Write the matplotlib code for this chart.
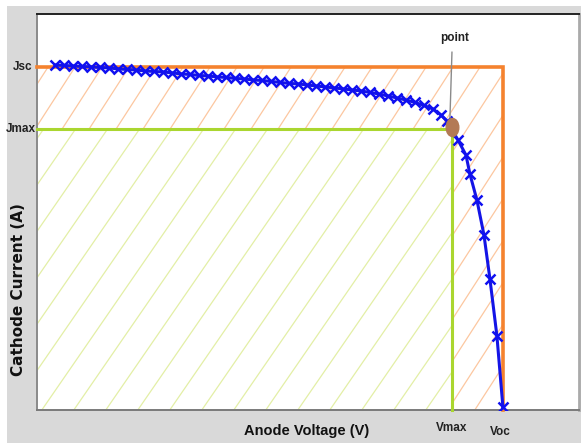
import numpy as np
import matplotlib
matplotlib.use("Agg")
from matplotlib import pyplot as plt
from matplotlib.patches import Rectangle
from matplotlib.path import Path
from matplotlib.transforms import Affine2D

# I-V sweep of the cell (voltage in V, current density)
voltage = [0.0232, 0.0348, 0.0464, 0.0579, 0.0695, 0.0811, 0.0927, 0.1043, 0.1159, 0.1275,
           0.1391, 0.1506, 0.1622, 0.1738, 0.1854, 0.1970, 0.2086, 0.2202, 0.2318, 0.2434,
           0.2549, 0.2665, 0.2781, 0.2897, 0.3013, 0.3129, 0.3245, 0.3361, 0.3477, 0.3592,
           0.3708, 0.3824, 0.3940, 0.4056, 0.4172, 0.4288, 0.4404, 0.4519, 0.4635, 0.4751,
           0.4867, 0.4983, 0.5099, 0.5202, 0.5279, 0.5421, 0.5524, 0.5575, 0.5665, 0.5756,
           0.5833, 0.5923, 0.6000]
current = [35.20, 35.15, 35.10, 35.05, 35.00, 34.95, 34.90, 34.80, 34.74, 34.69,
           34.59, 34.54, 34.49, 34.39, 34.29, 34.23, 34.13, 34.08, 33.98, 33.93,
           33.83, 33.78, 33.67, 33.62, 33.52, 33.42, 33.32, 33.27, 33.16, 33.06,
           32.96, 32.86, 32.76, 32.65, 32.55, 32.40, 32.24, 32.04, 31.84, 31.63,
           31.38, 31.07, 30.71, 30.10, 29.49, 27.55, 26.02, 24.08, 21.43, 17.86,
           13.37, 7.55, 0.31]

Voc = 0.600
Jsc = 35.0
Vmax = 0.534
Jmax = 28.7

XMAX, YMAX = 0.698, 40.4
W, H = 581, 443
fig = plt.figure(figsize=(W / 100, H / 100), dpi=100, facecolor="white")
fig.patches.append(Rectangle((7 / W, 0), 1, 1 - 6 / H, transform=fig.transFigure,
                             facecolor="#d9d9d9", edgecolor="none", zorder=-10))

ax = fig.add_axes([37 / W, 33 / H, 542 / W, 396 / H])
ax.set_facecolor("white")
ax.set_xlim(0, XMAX)
ax.set_ylim(0, YMAX)
ax.set_xticks([])
ax.set_yticks([])
ax.spines["top"].set_color("#222222")
ax.spines["top"].set_linewidth(1.4)
ax.spines["left"].set_color("#8a8a8a")
ax.spines["left"].set_linewidth(1.4)
ax.spines["bottom"].set_color("#7a7a7a")
ax.spines["bottom"].set_linewidth(1.4)
ax.spines["right"].set_color("#aaaaaa")
ax.spines["right"].set_linewidth(2)

ppx = 542 / XMAX   # pixels per volt
ppy = 396 / YMAX   # pixels per current unit


def hatch(x0, y0, x1, y1, color, spacing_px, slope_px, offset=0.0, z=1):
    # diagonal hatch lines clipped to a data rectangle, spacing/slope in pixels
    rect = Rectangle((x0, y0), x1 - x0, y1 - y0, facecolor="none", edgecolor="none")
    ax.add_patch(rect)
    slope = slope_px * ppx / ppy
    run = YMAX / slope
    for c in np.arange(-run - 0.05, XMAX + 0.05, spacing_px / ppx):
        ln, = ax.plot([c + offset, c + offset + run], [0, YMAX], color=color, lw=0.9, zorder=z)
        ln.set_clip_path(rect)


hatch(0, 0, Voc, Jsc, "#fcc7a0", 27, 1.55, offset=0.004)
# green region sits over the orange hatch below the maximum power point
ax.add_patch(Rectangle((0, 0), Vmax, Jmax, facecolor="white", edgecolor="none", zorder=1.5))
hatch(0, 0, Vmax, Jmax, "#e3efa6", 32, 1.45, offset=0.037, z=1.6)

# Jsc / Voc box and Jmax / Vmax box
ax.plot([0, Voc, Voc], [Jsc, Jsc, 0], color="#f5822e", lw=2.6, zorder=3, clip_on=False,
        solid_joinstyle="miter")
ax.plot([0, Vmax, Vmax], [Jmax, Jmax, 0], color="#aad630", lw=2.2, zorder=3, clip_on=False,
        solid_joinstyle="miter")

# I-V curve
ax.plot(voltage, current, color="#1414e6", lw=2.2, marker="x", ms=7, mew=1.8,
        mec="#1010f0", zorder=4)

# maximum power point
ell = Path.unit_circle().transformed(Affine2D().scale(0.7, 1.0))
ax.plot([Vmax], [Jmax + 0.2], marker=ell, ms=13, color="#b37a55", mec="#b37a55", zorder=5)
ax.plot([0.5344, 0.5318], [36.5, 29.8], color="#8a8a8a", lw=1, zorder=5, clip_on=False)

sans = ["Liberation Sans", "DejaVu Sans"]
ax.text(0.5380, 37.3, "point", ha="center", va="bottom", fontsize=8.5, fontweight="bold",
        family=sans, color="#222222")
ax.text(-0.019, Jsc, "Jsc", ha="center", va="center", fontsize=8.5, family=sans,
        fontweight="bold", color="#222222", clip_on=False)
ax.text(-0.021, Jmax, "Jmax", ha="center", va="center", fontsize=8.5, family=sans,
        fontweight="bold", color="#222222", clip_on=False)
ax.text(Vmax, -1.2, "Vmax", ha="center", va="top", fontsize=8.5, family=sans,
        fontweight="bold", color="#222222")
ax.text(Voc - 0.003, -1.6, "Voc", ha="center", va="top", fontsize=8.5, family=sans,
        fontweight="bold", color="#222222")

fig.text(307 / W, 1 - 431 / H, "Anode Voltage (V)", ha="center", va="center", fontsize=10.5,
         fontweight="bold", family=sans, color="#111111")
fig.text(19 / W, 1 - 290 / H, "Cathode Current (A)", ha="center", va="center", fontsize=11,
         fontweight="bold", rotation=90, color="#111111")

fig.savefig("out.png", dpi=100, facecolor=fig.get_facecolor())
